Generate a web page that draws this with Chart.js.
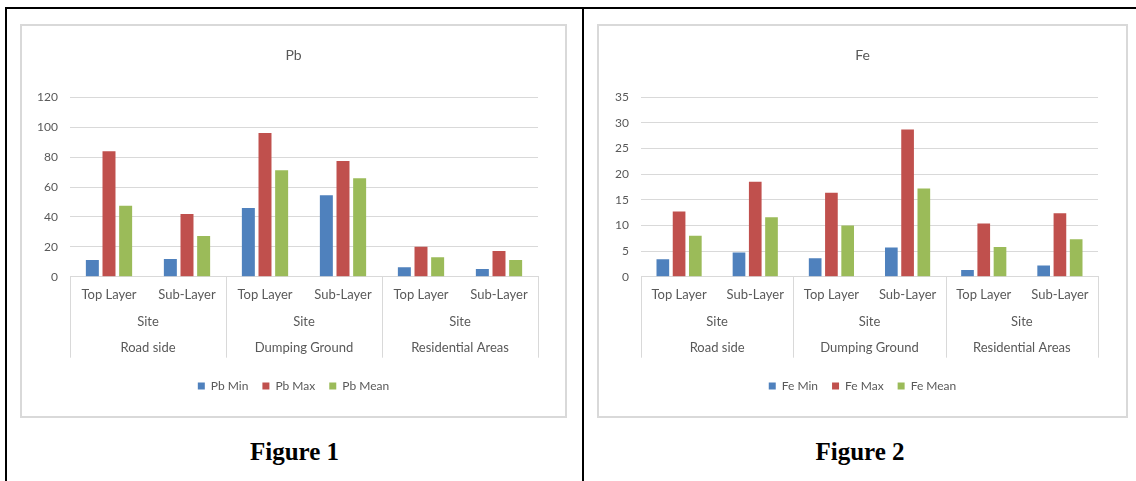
<!DOCTYPE html>
<html>
<head>
<meta charset="utf-8">
<script src="https://cdn.jsdelivr.net/npm/chart.js@4"></script>
<style>
  body { margin: 0; background: #fff; width: 1136px; height: 481px; position: relative; overflow: hidden; }
  .rule { position: absolute; background: #000; }
  .frame { position: absolute; top: 24px; border: 2px solid #d9d9d9; }
  .caption { position: absolute; top: 438px; font: bold 25px "Liberation Serif", serif; color: #000; text-align: center; }
</style>
</head>
<body>
<div class="rule" style="left:5px; top:7px; width:1131px; height:2px;"></div>
<div class="rule" style="left:5px; top:7px; width:2px; height:474px;"></div>
<div class="rule" style="left:582px; top:7px; width:2px; height:474px;"></div>

<div class="frame" style="left:20px; width:543px; height:390px;"><canvas id="pbChart" width="543" height="390"></canvas></div>
<div class="frame" style="left:597px; width:527px; height:390px;"><canvas id="feChart" width="527" height="390"></canvas></div>

<div class="caption" style="left:7px; width:575px;">Figure 1</div>
<div class="caption" style="left:584px; width:552px;">Figure 2</div>

<script>
// categorias
const layers = ['Top Layer', 'Sub-Layer', 'Top Layer', 'Sub-Layer', 'Top Layer', 'Sub-Layer'];
const siteRow = ['Site', 'Site', 'Site'];
const siteGroups = ['Road side', 'Dumping Ground', 'Residential Areas'];

// Pb
const pbMin = [11.2, 11.8, 46.0, 54.5, 6.3, 5.2];
const pbMax = [83.9, 42.0, 96.2, 77.4, 20.1, 17.2];
const pbMean = [47.5, 27.2, 71.2, 65.9, 13.0, 11.2];

// Fe
const feMin = [3.4, 4.7, 3.6, 5.7, 1.3, 2.2];
const feMax = [12.7, 18.5, 16.4, 28.7, 10.4, 12.4];
const feMean = [8.0, 11.6, 10.0, 17.2, 5.8, 7.3];

const colors = { min: '#4f81bd', max: '#c0504d', mean: '#9bbb59' };
const textColor = '#595959';
const lineColor = '#d9d9d9';
const fontFamily = 'Lato, "Open Sans", sans-serif';

// lineas verticales entre grupos de sitio
const groupLines = {
    id: 'groupLines',
    afterDraw(chart) {
        const x = chart.scales.x;
        const x3 = chart.scales.x3;
        const ctx = chart.ctx;
        const area = chart.chartArea;
        const bottom = x3.top + 23;
        const edges = [area.left, area.right];
        for (let i = 1; i < layers.length - 1; i += 2) {
            edges.push((x.getPixelForValue(i) + x.getPixelForValue(i + 1)) / 2);
        }
        ctx.save();
        ctx.strokeStyle = lineColor;
        ctx.lineWidth = 1;
        edges.forEach(px => {
            const xx = Math.round(px) + 0.5;
            ctx.beginPath();
            ctx.moveTo(xx, area.bottom);
            ctx.lineTo(xx, bottom);
            ctx.stroke();
        });
        ctx.restore();
    }
};

function rowAxis(labels, padding, height, weight) {
    return {
        type: 'category',
        position: 'bottom',
        labels: labels,
        offset: true,
        weight: weight,
        grid: { display: false, drawTicks: false },
        border: { display: false },
        ticks: { color: textColor, font: { family: fontFamily, size: 13 }, padding: padding, maxRotation: 0, autoSkip: false },
        afterFit: scale => { scale.height = height; }
    };
}

function makeChart(id, title, label, mins, maxs, means, yMax, yStep, leftW, rightW) {
    const ctx = document.getElementById(id).getContext('2d');
    return new Chart(ctx, {
        type: 'bar',
        data: {
            labels: layers,
            datasets: [
                { label: label + ' Min', data: mins, backgroundColor: colors.min },
                { label: label + ' Max', data: maxs, backgroundColor: colors.max },
                { label: label + ' Mean', data: means, backgroundColor: colors.mean }
            ]
        },
        options: {
            responsive: false,
            animation: false,
            devicePixelRatio: 1,
            categoryPercentage: 0.64,
            barPercentage: 0.78,
            layout: { padding: { left: 0, right: 0, top: 0, bottom: 14 } },
            plugins: {
                title: {
                    display: true,
                    text: title,
                    color: textColor,
                    font: { family: fontFamily, size: 14, weight: 'normal' },
                    padding: { top: 20.6, bottom: 33.9 }
                },
                legend: {
                    position: 'bottom',
                    labels: {
                        color: textColor,
                        font: { family: fontFamily, size: 12 },
                        boxWidth: 7,
                        boxHeight: 7,
                        padding: 14
                    }
                },
                tooltip: { enabled: false }
            },
            scales: {
                x: {
                    type: 'category',
                    position: 'bottom',
                    weight: 0,
                    grid: { display: false, drawTicks: false },
                    border: { display: true, color: lineColor, width: 1 },
                    ticks: { color: textColor, font: { family: fontFamily, size: 13 }, padding: 10.5, maxRotation: 0, autoSkip: false },
                    afterFit: scale => { scale.height = 31.5; }
                },
                x2: rowAxis(siteRow, 6.0, 26.5, 1),
                x3: rowAxis(siteGroups, 5.5, 31.3, 2),
                y: {
                    min: 0,
                    max: yMax,
                    ticks: { stepSize: yStep, color: textColor, font: { family: fontFamily, size: 12 }, padding: 12 },
                    grid: { color: lineColor, lineWidth: 1, drawTicks: false },
                    border: { display: false },
                    afterFit: scale => { scale.width = leftW; }
                },
                yRight: {
                    type: 'linear',
                    position: 'right',
                    min: 0,
                    max: 1,
                    grid: { display: false, drawTicks: false },
                    border: { display: false },
                    ticks: { display: false },
                    afterFit: scale => { scale.width = rightW; }
                }
            }
        },
        plugins: [groupLines]
    });
}

makeChart('pbChart', 'Pb', 'Pb', pbMin, pbMax, pbMean, 120, 20, 48, 27);
makeChart('feChart', 'Fe', 'Fe', feMin, feMax, feMean, 35, 5, 42, 28);
</script>
</body>
</html>
